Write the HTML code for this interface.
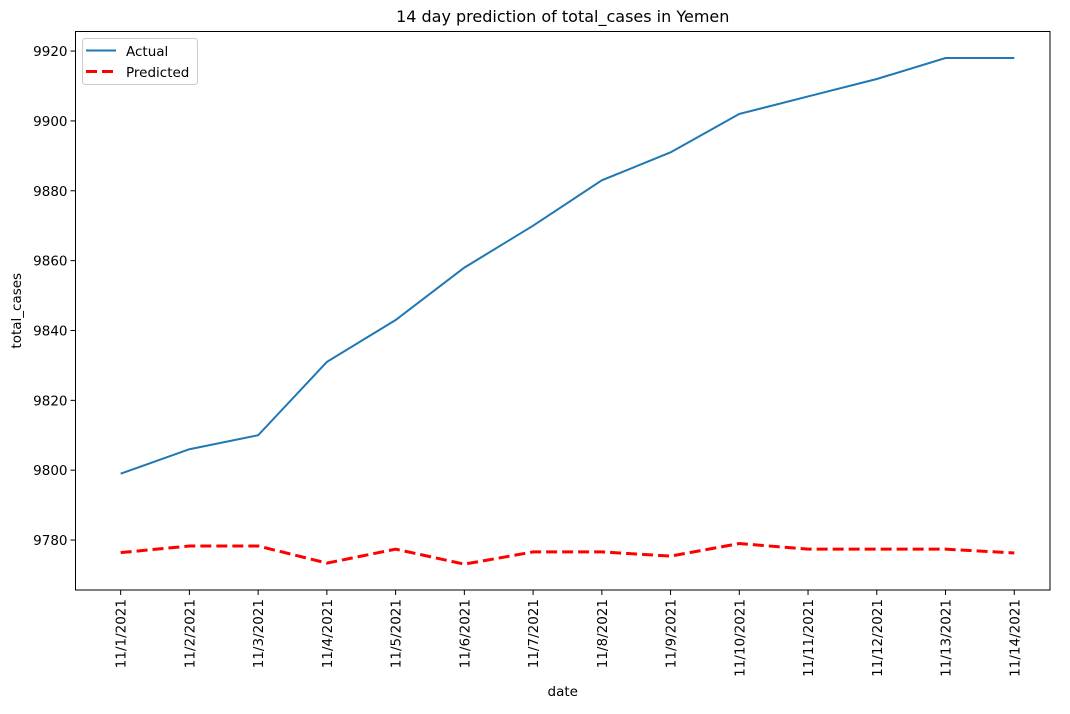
<!DOCTYPE html>
<html><head><meta charset="utf-8"><style>
body{margin:0;background:#fff;}
svg text{font-family:"DejaVu Sans","Liberation Sans",sans-serif;fill:#000;}
</style></head><body>
<svg width="1070" height="709" viewBox="0 0 1070 709" xmlns="http://www.w3.org/2000/svg">
<g id="plot"></g>
</svg>
<script>
const categories=["11/1/2021","11/2/2021","11/3/2021","11/4/2021","11/5/2021","11/6/2021","11/7/2021","11/8/2021","11/9/2021","11/10/2021","11/11/2021","11/12/2021","11/13/2021","11/14/2021"];
const actualValues=[9799,9806,9810,9831,9843,9858,9870,9883,9891,9902,9907,9912,9918,9918];
const predictedValues=[9776.4,9778.3,9778.3,9773.4,9777.4,9773.1,9776.6,9776.6,9775.4,9779.0,9777.4,9777.4,9777.4,9776.3];
const yTicks=[9780,9800,9820,9840,9860,9880,9900,9920];

const L=75.5,R=1050,T=31.5,B=590;
const yMin=9765.7,yMax=9925.6,xMin=-0.657,xMax=13.52;
const xs=i=>L+(i-xMin)/(xMax-xMin)*(R-L);
const ys=v=>B-(v-yMin)/(yMax-yMin)*(B-T);
const NS="http://www.w3.org/2000/svg";
const g=document.getElementById('plot');
function mk(tag,attrs,parent){const e=document.createElementNS(NS,tag);for(const k in attrs)e.setAttribute(k,attrs[k]);(parent||g).appendChild(e);return e;}

let t=mk('text',{x:(L+R)/2,y:22,'text-anchor':'middle','font-size':'16'});t.textContent='14 day prediction of total_cases in Yemen';



yTicks.forEach(v=>{
 const y=ys(v);
 const l=mk('line',{x1:L-5,x2:L,y1:y,y2:y,stroke:'#000','stroke-width':1});
 
 
 const tx=mk('text',{x:L-8,y:y+5,'text-anchor':'end','font-size':'13.5'});tx.textContent=v;
 
 
});
categories.forEach((c,i)=>{
 const x=xs(i);
 const l=mk('line',{x1:x,x2:x,y1:B,y2:B+5,stroke:'#000','stroke-width':1});
 
 
 const tx=mk('text',{x:x+5,y:B+9,'text-anchor':'end','font-size':'13.5',transform:`rotate(-90 ${x+5} ${B+9})`});tx.textContent=c;
 
 
});
let xl=mk('text',{x:(L+R)/2,y:696,'text-anchor':'middle','font-size':'13.5'});xl.textContent='date';


let yl=mk('text',{x:21,y:(T+B)/2,'text-anchor':'middle','font-size':'13.5',transform:`rotate(-90 21 ${(T+B)/2})`});yl.textContent='total_cases';



let pa=mk('polyline',{points:actualValues.map((v,i)=>xs(i)+','+ys(v)).join(' '),fill:'none',stroke:'#1f77b4','stroke-width':2});


let pp=mk('polyline',{points:predictedValues.map((v,i)=>xs(i)+','+ys(v)).join(' '),fill:'none',stroke:'#ff0000','stroke-width':3,'stroke-dasharray':'11 5'});



let fr=mk('rect',{x:L,y:T,width:R-L,height:B-T,fill:'none',stroke:'#000','stroke-width':1});



const lg=mk('g',{});


mk('rect',{x:82.5,y:38.5,width:115,height:46,rx:3,fill:'#fff',stroke:'#ccc','stroke-width':1},lg);
let e1=mk('line',{x1:86,x2:116,y1:50.5,y2:50.5,stroke:'#1f77b4','stroke-width':2},lg);


let a1=mk('text',{x:126,y:56,'font-size':'13.5'},lg);a1.textContent='Actual';
let e2=mk('line',{x1:86,x2:116,y1:71.5,y2:71.5,stroke:'#ff0000','stroke-width':3,'stroke-dasharray':'11 5'},lg);


let a2=mk('text',{x:126,y:77,'font-size':'13.5'},lg);a2.textContent='Predicted';
</script>
</body></html>
